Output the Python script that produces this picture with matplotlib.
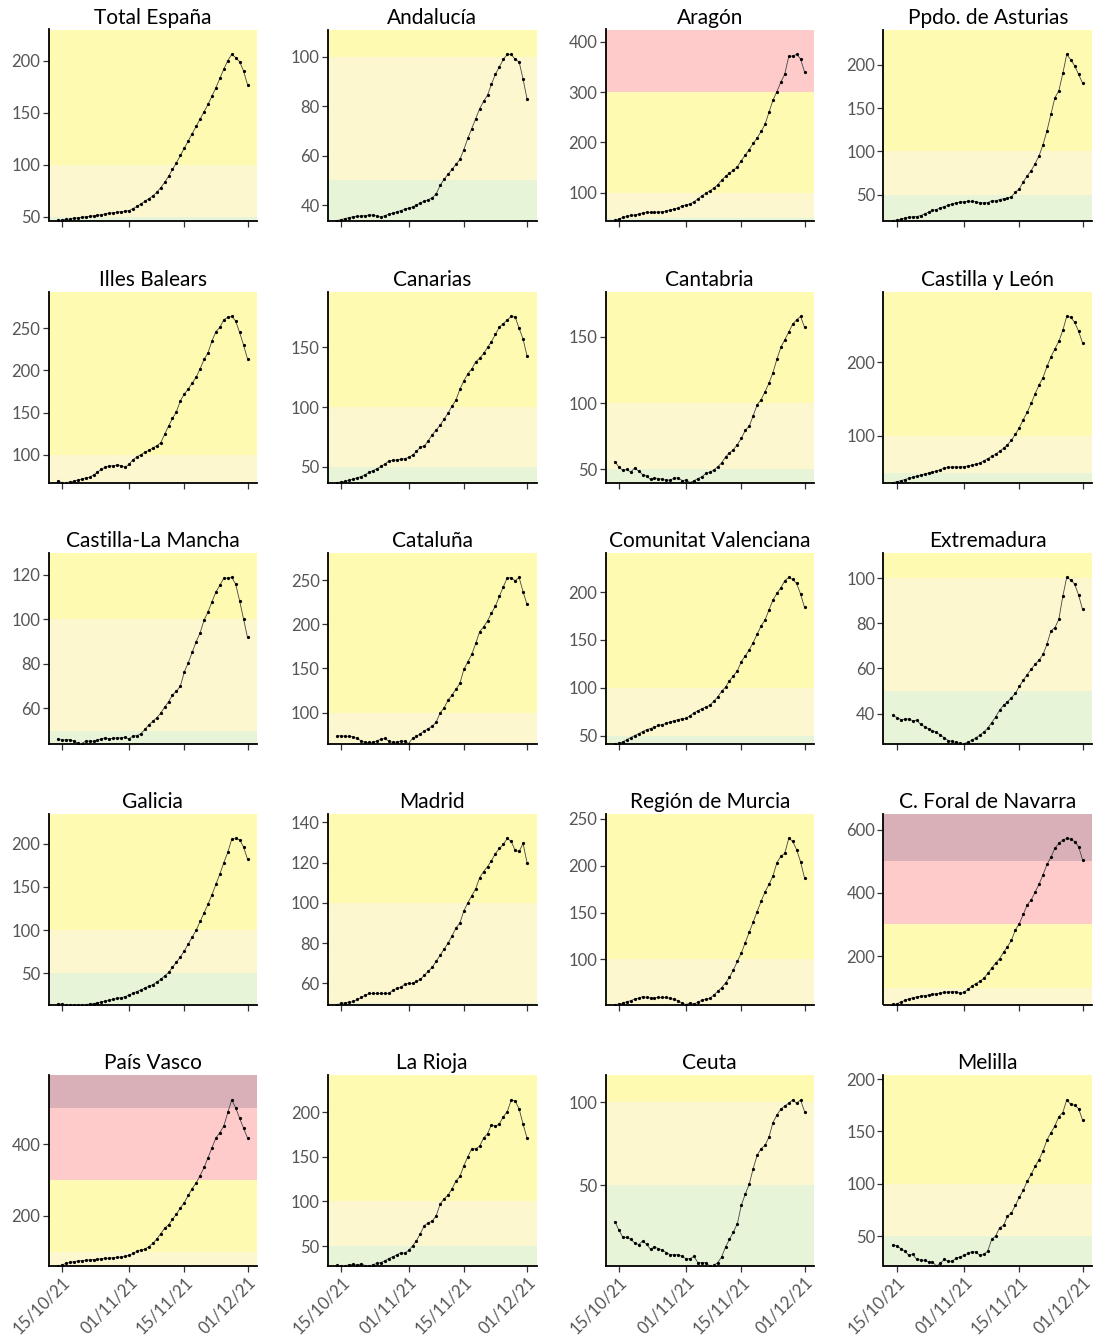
import numpy as np
import pandas as pd
import matplotlib
matplotlib.use("Agg")
import matplotlib.pyplot as plt
from matplotlib.ticker import MultipleLocator

plt.rcParams["font.family"] = ["Lato", "DejaVu Sans"]

# Daily incidence per region, 14/10/21 .. 01/12/21
dates = pd.date_range("2021-10-14", "2021-12-01", freq="D")
tick_dates = pd.to_datetime(["2021-10-15", "2021-11-01", "2021-11-15", "2021-12-01"])
tick_labels = ["15/10/21", "01/11/21", "15/11/21", "01/12/21"]

regions = ["Total España", "Andalucía", "Aragón", "Ppdo. de Asturias",
           "Illes Balears", "Canarias", "Cantabria", "Castilla y León",
           "Castilla-La Mancha", "Cataluña", "Comunitat Valenciana", "Extremadura",
           "Galicia", "Madrid", "Región de Murcia", "C. Foral de Navarra",
           "País Vasco", "La Rioja", "Ceuta", "Melilla"]

total_espana = [46.5, 47, 47.5, 48, 48.5, 49, 49.5, 50, 50.5, 51, 51.5, 52, 53, 53.5, 54, 54.5,
                55, 55.5, 56, 58, 60, 62.5, 65, 67.5, 70, 73.5, 78, 83, 89, 95.5, 102, 109,
                116, 123, 130, 137, 144, 151, 158, 166, 174, 183, 192, 200, 206, 203, 199, 190, 177]
andalucia = [33.8, 34.2, 34.6, 35, 35.3, 35.5, 35.6, 35.8, 36, 36, 35.6, 35.2, 35.8, 36.3, 36.8,
             37.3, 37.8, 38.3, 38.8, 39.3, 40, 41, 41.6, 42.2, 43, 44.6, 48, 50.5, 52.5, 54.5,
             56.5, 58.5, 62.5, 67, 71, 75, 79, 82, 84.5, 89, 93, 96, 99, 101, 101, 99, 98, 91, 83]
aragon = [45, 48, 51, 53, 55, 56, 58, 60, 61, 61, 61, 62, 62, 64, 66, 68, 70, 74, 76, 78, 82,
          88, 94, 99, 104, 109, 116, 125, 133, 139, 145, 152, 164, 175, 186, 198, 209, 222, 236,
          260, 284, 301, 320, 336, 371, 372, 375, 366, 340]
asturias = [20.4, 21, 22, 23, 24, 24.5, 25, 26, 28, 30, 32, 33, 35, 36.5, 38, 39.5, 41, 41.5, 42,
            42.5, 42.5, 42, 41, 40.5, 41, 43, 43, 44.5, 45.5, 46, 48, 53, 57, 65, 72, 78, 86, 95,
            108, 124, 143, 162, 170, 190, 212, 206, 199, 189, 179]
illes_balears = [68.5, 67, 67, 67.5, 68.5, 70, 71, 72.5, 73, 76, 79, 83, 85, 87, 86.5, 88, 87, 85,
                 88.5, 94, 97.5, 100, 103, 105, 108, 110.5, 114, 124, 134, 143, 151, 164, 172, 178,
                 185, 192, 202, 213, 221, 235, 246, 251, 260, 263, 264, 258.5, 245, 230, 213.5]
canarias = [37, 37.5, 38, 39, 40, 41, 42, 43.5, 45.5, 47, 48.5, 50.5, 52.5, 55, 55.5, 56, 56.5,
            57, 58, 60, 63, 66.5, 67.5, 72, 77, 81, 85, 90, 95, 101, 106, 115, 122, 128, 132, 138,
            141, 145, 150, 155, 161, 167, 170, 173, 176, 175.5, 166, 157, 143]
cantabria = [55.8, 51.8, 49.3, 50, 48, 51.3, 48.7, 46.2, 45, 42.5, 43.7, 43.2, 42.5, 42, 42, 43.5,
             43.7, 41.7, 42, 40.2, 41.5, 43.2, 44.5, 47, 48, 49.5, 52, 55, 59.5, 62.5, 65, 68.8,
             73.5, 79.5, 82.6, 90.5, 98.8, 102.6, 108.6, 115, 123, 133, 142, 147.7, 153.5, 159.5,
             162.8, 165.3, 157]
castilla_leon = [36.5, 37.5, 39, 40.5, 42, 43.5, 45, 46.5, 48, 49.5, 50.5, 52, 54, 56, 57, 57.5,
                 57.5, 57.5, 58, 59, 60, 61, 63, 66, 69, 72, 75, 79, 83, 88, 94, 102, 111, 122, 132,
                 144, 157, 169, 179, 194, 207, 218, 228, 243, 262, 261, 254, 242, 226]
castilla_mancha = [46.5, 45.7, 46, 46, 45.4, 44.5, 44.3, 45.3, 45.4, 45.3, 45.7, 46.5, 46.8, 46.4,
                   46.6, 46.8, 46.8, 47, 46.4, 47.7, 47.8, 48.7, 50.6, 52.7, 54.2, 55.8, 57.9, 60.6,
                   63, 66, 67.8, 70, 76.4, 80.5, 85.2, 89.9, 93.9, 99.6, 103.3, 107.8, 112.2,
                   115.2, 118.4, 118.4, 118.7, 115.7, 108.2, 100, 91.8]
cataluna = [73.5, 73.5, 73, 73, 72.3, 70.5, 67.8, 66, 66, 66.3, 67.8, 69.7, 70.5, 67.4, 66, 66.7,
            67.4, 67.4, 64.8, 70.5, 73, 76, 79, 81.8, 84.5, 89, 99.6, 105.3, 114, 119.7, 126.5, 133,
            148.9, 157.6, 165.9, 178.4, 191.7, 197.3, 204, 213, 220.8, 232, 242.8, 253, 253,
            249.6, 253.4, 237, 222.7]
valenciana = [41.7, 42, 43.4, 45.8, 47.9, 50, 52, 54.2, 56.2, 57.3, 58.7, 60.8, 61.5, 62.8, 64.2,
              65.6, 66.7, 67.7, 68, 70.8, 73.6, 76, 78.1, 79.9, 81.6, 85.8, 90.3, 96.2, 100.7,
              107.3, 112.5, 117.7, 127.4, 133.3, 139.6, 147.2, 155.9, 164.6, 170.8, 181.3, 191.7,
              198.6, 204.5, 211.8, 215.3, 213.2, 209, 198, 184]
extremadura = [39.2, 38.2, 37.3, 37.5, 37.6, 36.8, 37, 35.2, 34.2, 33.2, 32.4, 31.6, 30.5, 29.2,
               28, 27.6, 27.2, 26.8, 26.7, 27.3, 28.2, 29.2, 30.4, 31.8, 33.5, 36, 38.5, 41.5,
               43.7, 45.2, 47.1, 48.9, 52.1, 54.8, 57.3, 59.7, 61.9, 63.7, 66.2, 70.8, 76.7, 78.1,
               81.8, 92, 100.4, 99.3, 97.5, 92.6, 86.2]
galicia = [15, 14.5, 14, 14, 14, 14, 14, 14, 14.5, 15, 16, 17, 18, 19, 20, 21, 22, 23, 25, 27, 29,
           31, 33, 35, 37, 40, 43, 47, 51, 57, 63, 69, 76, 84, 92, 100, 110, 120, 130, 141, 153,
           165, 178, 190, 205, 206, 204.5, 196, 182]
madrid = [49.5, 50, 50.4, 50.5, 51, 52, 53, 54, 55, 55, 55, 55, 55, 55, 56.5, 57.5, 58, 59.5, 60,
          60, 61, 62, 64, 66, 68, 71, 74, 77, 80, 83.5, 87.5, 90, 96, 100, 103.5, 107, 112.5,
          115.5, 118, 121, 124.5, 127, 129, 132, 130.5, 126, 125.5, 129.5, 120]
murcia = [52, 52.5, 53.4, 55, 56, 58, 58.5, 60.5, 59.5, 59, 59, 59.5, 59.5, 59.5, 58.5, 57.5, 56,
          53.5, 52, 53.5, 52.5, 54.5, 56.5, 57.5, 58.5, 62, 66, 70, 75, 81, 89, 98, 107, 118, 129,
          140, 151, 162, 172, 180, 189, 203, 210, 213, 229, 226, 217, 204, 187]
navarra = [47, 49, 55, 60, 65, 68, 71, 73, 75, 77, 79, 81, 83, 85, 86.5, 87, 87.5, 82, 85, 95,
           105, 113, 120, 130, 145, 162, 178, 192, 212, 230, 250, 283, 303, 332, 362, 378, 402,
           428, 457, 490, 512, 541, 556, 567, 572, 570, 562, 546, 505]
pais_vasco = [60, 63, 67, 70, 72, 74, 75, 76, 77, 78, 79, 80, 81, 82, 83, 84, 85, 87, 90, 95, 101,
              105, 107, 114, 123, 135, 150, 165, 175, 190, 205, 222, 237, 257, 276, 292, 312, 335,
              362, 390, 417, 432, 450, 488, 523, 501, 472, 444, 417]
la_rioja = [28.5, 27.6, 28, 29, 29.5, 28.5, 30, 28, 27.6, 29, 30.5, 31.5, 33.5, 36, 38, 40, 42.5,
            42, 45, 50, 56, 64, 73, 76, 78, 84, 97, 103, 107, 114, 123, 128, 140, 150, 159, 159,
            162, 171, 176, 186, 184, 187, 195, 200.7, 213.8, 212.6, 203.7, 186.6, 171]
ceuta = [28, 22.8, 18.5, 18.5, 17.3, 15.1, 14.1, 16.3, 14.3, 11.3, 12.7, 11.7, 10.7, 9.3, 8, 8, 8,
         7, 5.6, 5.6, 7, 3.2, 3.2, 3.2, 1.2, 1.6, 3.2, 6.6, 12.7, 17.3, 21.8, 26.8, 37.9, 44.6,
         50.6, 60, 68, 72, 74, 79, 87.7, 92.3, 95.8, 97.8, 99.4, 101.4, 99.4, 101.4, 94.4]
melilla = [41.7, 40.4, 37.9, 35.6, 31.5, 32.4, 27.6, 27, 26.7, 25.1, 25.1, 21.3, 23.8, 27.6, 25.7,
           26, 28.8, 30, 31.5, 33.4, 35, 34.7, 31.5, 32.4, 35.6, 46.8, 50, 58, 60.2, 69, 72.2,
           79.2, 87.2, 93.9, 102.6, 108.9, 116.9, 123, 131.3, 141.9, 148.9, 155.3, 164.2, 168.1,
           180.2, 176, 175.1, 171.9, 161]

series = [total_espana, andalucia, aragon, asturias, illes_balears, canarias, cantabria,
          castilla_leon, castilla_mancha, cataluna, valenciana, extremadura, galicia, madrid,
          murcia, navarra, pais_vasco, la_rioja, ceuta, melilla]
y_steps = [50, 20, 100, 50, 50, 50, 50, 100, 20, 50, 50, 20, 50, 20, 50, 200, 200, 50, 50, 50]

# Risk bands
band_edges = [-1000, 50, 100, 300, 500, 100000]
band_colors = ["#e7f4d8", "#fdf7cf", "#fffab2", "#ffcaca", "#d9b0b8"]

W, H = 1094, 1339
fig = plt.figure(figsize=(W / 100, H / 100), dpi=100)
col_left = [48.5, 328, 605.5, 883.5]
row_top = [29.5, 291.5, 552.5, 813.5, 1075]
ax_w, ax_h = 208.5, 191

pad = pd.Timedelta(days=2.4)
for k, (name, vals, step) in enumerate(zip(regions, series, y_steps)):
    r, c = divmod(k, 4)
    ax = fig.add_axes([col_left[c] / W, 1 - (row_top[r] + ax_h) / H, ax_w / W, ax_h / H])
    v = np.asarray(vals, dtype=float)
    lo, hi = v.min(), v.max()
    top = hi + 0.15 * (hi - lo)
    for (a, b), col in zip(zip(band_edges[:-1], band_edges[1:]), band_colors):
        ax.axhspan(a, b, color=col, lw=0, zorder=0)
    ax.plot(dates, v, color="#444444", lw=0.6, marker="o", ms=1.3,
            mfc="black", mec="black", zorder=3)
    ax.set_ylim(lo, top)
    ax.set_xlim(dates[0] - pad, dates[-1] + pad)
    ax.yaxis.set_major_locator(MultipleLocator(step))
    ax.set_xticks(tick_dates)
    if r == 4:
        ax.set_xticklabels(tick_labels, rotation=45, ha="right", rotation_mode="anchor")
    else:
        ax.set_xticklabels([])
    for s in ["top", "right"]:
        ax.spines[s].set_visible(False)
    for s in ["left", "bottom"]:
        ax.spines[s].set_linewidth(1.3)
        ax.spines[s].set_color("black")
    ax.tick_params(length=4, width=0.9, color="#333333", labelsize=12,
                   labelcolor="#555555", pad=2)
    ax.set_title(name, fontsize=15, pad=4, color="black")

fig.savefig("out.png", dpi=100)
